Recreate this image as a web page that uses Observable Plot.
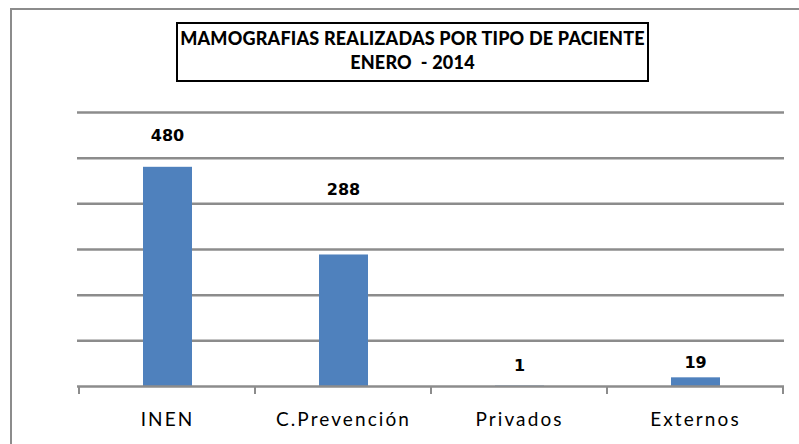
<!DOCTYPE html>
<html><head><meta charset="utf-8">
<script src="https://cdn.jsdelivr.net/npm/d3@7"></script>
<script src="https://cdn.jsdelivr.net/npm/@observablehq/plot@0.6"></script>
<style>
body{margin:0;background:#fff;}
#wrap{position:relative;width:799px;height:444px;overflow:hidden;}
#frame{position:absolute;left:10px;top:8px;width:800px;height:450px;border-left:2px solid #8c8c8c;border-top:2px solid #8c8c8c;box-sizing:border-box;}
#title{position:absolute;left:176px;top:22px;width:473px;height:60px;border:2px solid #000;box-sizing:border-box;
 font-family:Lato,"Open Sans",sans-serif;font-weight:900;font-size:18px;text-align:center;line-height:24px;padding-top:2px;color:#000;letter-spacing:0.2px;}
#chart{position:absolute;left:0;top:0;}
.xlab text{letter-spacing:2.1px;}
</style></head>
<body>
<div id="wrap">
<div id="frame"></div>
<div id="chart"></div>
<div id="title">MAMOGRAFIAS REALIZADAS POR TIPO DE PACIENTE<br>ENERO&nbsp; - 2014</div>
</div>
<script>
const categories = ["INEN", "C.Prevención", "Privados", "Externos"];
const values = [480, 288, 1, 19];
const labelHeights = [548, 430, 46, 52]; // label anchor heights in data units, as placed in the original
const yTicks = [100, 200, 300, 400, 500, 600];

const data = categories.map((c, i) => ({cat: c, value: values[i], labelAt: labelHeights[i]}));

function boundaryTicks(index, scales, values, dims) {
  const g = d3.create("svg:g");
  const x = scales.x, y = scales.y;
  const bw = x.bandwidth ? x.bandwidth() : 0;
  const positions = categories.map(c => x(c)).concat([x(categories[categories.length - 1]) + bw]);
  const y0 = y(0);
  for (const px of positions) {
    g.append("line").attr("x1", px).attr("x2", px).attr("y1", y0).attr("y2", y0 + 8)
      .attr("stroke", "#8c8c8c").attr("stroke-width", 2);
  }
  return g.node();
}

const plot = Plot.plot({
  width: 799,
  height: 444,
  marginLeft: 77,
  marginRight: 15,
  marginTop: 112,
  marginBottom: 58,
  x: {domain: categories, padding: 0},
  y: {domain: [0, 600]},
  style: {background: "transparent"},
  marks: [
    Plot.ruleY(yTicks, {stroke: "#8c8c8c", strokeWidth: 2.5, strokeOpacity: 1}),
    Plot.barY(data, {x: "cat", y: "value", fill: "#4f81bd", insetLeft: 64, insetRight: 63}),
    Plot.ruleY([0], {stroke: "#8c8c8c", strokeWidth: 2.5}),
    boundaryTicks,
    Plot.text(data, {x: "cat", y: "labelAt", text: d => String(d.value), fontFamily: "DejaVu Sans", fontWeight: "bold", fontSize: 16, fill: "#000"}),
    Plot.axisX({tickSize: 0, tickPadding: 26, fontSize: 19, fontFamily: "Lato", fontWeight: "normal", label: null, fill: "#000", className: "xlab"}),
    Plot.axisY({ticks: [], label: null})
  ]
});
document.getElementById("chart").appendChild(plot);
</script>
</body></html>
